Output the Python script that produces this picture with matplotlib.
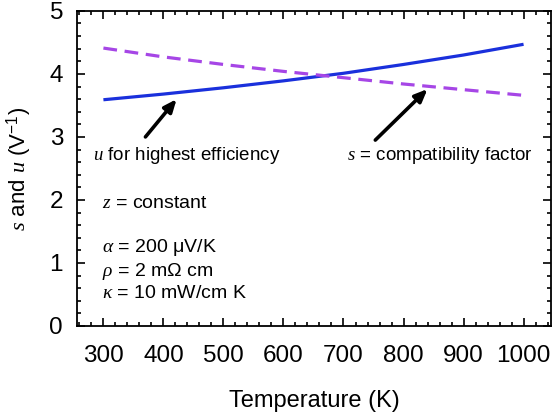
import numpy as np
import matplotlib
matplotlib.use('Agg')
import matplotlib.pyplot as plt
from matplotlib.ticker import MultipleLocator

plt.rcParams['font.family'] = ['Liberation Sans', 'DejaVu Sans']
plt.rcParams['mathtext.fontset'] = 'custom'
plt.rcParams['mathtext.rm'] = 'Liberation Sans'
plt.rcParams['mathtext.it'] = 'Liberation Serif:italic'
plt.rcParams['mathtext.fallback'] = 'stix'

# values
temperature = [300, 400, 500, 600, 700, 800, 900, 1000]
u_values = [3.59, 3.68, 3.78, 3.89, 4.01, 4.15, 4.30, 4.47]
s_values = [4.41, 4.27, 4.15, 4.04, 3.94, 3.84, 3.75, 3.66]

params = ['$z$ = constant', '',
          '$\\alpha$ = 200 \u03bcV/K',
          '$\\rho$ = 2 m\u03a9 cm',
          '$\\kappa$ = 10 mW/cm K']
param_y = [1.95, None, 1.25, 0.87, 0.52]

fig = plt.figure(figsize=(5.52, 4.19), dpi=100)
ax = fig.add_axes([0.1395, 0.222, 0.859, 0.752])

ax.plot(temperature, u_values, color='#1a30dc', lw=2.3, solid_capstyle='butt')
ax.plot(temperature, s_values, color='#a646e6', lw=2.3, ls=(0, (4.3, 2.4)))

# arrows + labels
arrow = dict(arrowstyle='-|>,head_length=0.75,head_width=0.32',
             color='black', lw=2.6, shrinkA=0, shrinkB=0)
ax.annotate('', xy=(422, 3.60), xytext=(370, 3.0), arrowprops=arrow)
ax.annotate('', xy=(840, 3.76), xytext=(753, 2.95), arrowprops=arrow)
ax.text(282, 2.71, '$u$ for highest efficiency', fontsize=13.5, va='center')
ax.text(706, 2.71, '$s$ = compatibility factor', fontsize=13.5, va='center')

for txt, yv in zip(params, param_y):
    if txt:
        ax.text(298, yv, txt, fontsize=14, va='center')

ax.set_xlim(256, 1046)
ax.set_ylim(0, 5)
ax.xaxis.set_major_locator(MultipleLocator(100))
ax.xaxis.set_minor_locator(MultipleLocator(20))
ax.yaxis.set_major_locator(MultipleLocator(1))
ax.yaxis.set_minor_locator(MultipleLocator(0.2))
ax.tick_params(which='both', direction='in', top=True, right=True, width=1.2)
ax.tick_params(which='major', length=5.5, labelsize=17.5)
ax.tick_params(axis='x', which='major', pad=14)
ax.tick_params(axis='y', which='major', pad=10)
ax.tick_params(which='minor', length=3)
for sp in ax.spines.values():
    sp.set_linewidth(1.3)

ax.set_xlabel('Temperature (K)', fontsize=17, labelpad=16)
ax.set_ylabel('$s$ and $u$ (V$^{-1}$)', fontsize=16, labelpad=11)

fig.savefig('out.png', dpi=100)
